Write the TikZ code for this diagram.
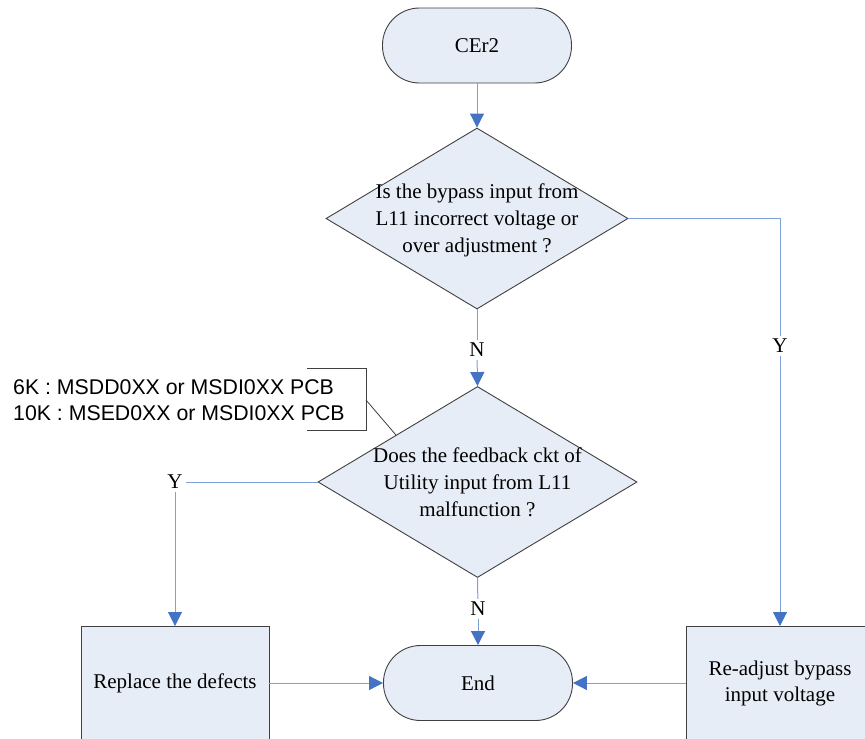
\documentclass[tikz,border=0pt]{standalone}
\usepackage{fontspec}
\setmainfont{Liberation Serif}
\newfontfamily\annofont{Liberation Sans}
\usetikzlibrary{shapes.geometric,arrows.meta,calc}

\definecolor{boxfill}{RGB}{231,237,247}
\definecolor{boxline}{RGB}{64,64,64}
\definecolor{flowline}{RGB}{125,160,216}
\definecolor{tipblue}{RGB}{68,114,196}

\tikzset{
  txt/.style={font=\fontsize{21}{27}\selectfont, align=center, inner sep=0pt},
  terminal/.style={draw=boxline, fill=boxfill, line width=0.9pt, rectangle,
    rounded corners=37pt, minimum width=189pt, minimum height=75pt,
    font=\fontsize{21}{27}\selectfont},
  decision/.style={draw=boxline, fill=boxfill, line width=0.9pt, diamond,
    inner sep=0pt},
  process/.style={draw=boxline, fill=boxfill, line width=0.9pt, rectangle,
    minimum width=188pt, minimum height=140pt, anchor=north},
  flow/.style={draw=flowline, line width=1pt},
  flowarrow/.style={flow, -{Triangle[length=14pt,width=14pt,color=tipblue]}},
  branch/.style={font=\fontsize{21}{27}\selectfont, inner sep=3pt},
  note/.style={draw=boxline, line width=0.8pt}
}

\begin{document}
\begin{tikzpicture}[x=1pt,y=-1pt]
  \useasboundingbox (0,0) rectangle (865,739);

  % start terminal
  \node[terminal] (start) at (477,45.5) {CEr2};

  % first decision
  \node[decision, minimum width=302pt, minimum height=181pt] (d1) at (477,218.5) {};
  \node[txt] (d1text) at (477,220) {Is the bypass input from\\L11 incorrect voltage or\\over adjustment ?};

  % second decision
  \node[decision, minimum width=319pt, minimum height=191pt] (d2) at (477.5,482) {};
  \node[txt] (d2text) at (477.5,482) {Does the feedback ckt of\\Utility input from L11\\malfunction ?};

  % end terminal
  \node[terminal] (end) at (478,683) {End};

  % process boxes (they run past the lower edge of the page)
  \node[process] (replace) at (175,626) {};
  \node[txt] (replacetext) at (175,683.5) {Replace the defects};
  \node[process] (readjust) at (780,626) {};
  \node[txt, font=\fontsize{21}{26}\selectfont] (readjusttext) at (780,683) {Re-adjust bypass\\input voltage};

  % branch labels
  \node[branch] (n1) at (477,350) {N};
  \node[branch] (n2) at (478,609) {N};
  \node[branch] (y1) at (780,346) {Y};
  \node[branch] (y2) at (175,482) {Y};

  % connectors
  \draw[flowarrow] (start) -- (d1.north);
  \draw[flow] (d1.south) -- (n1);
  \draw[flowarrow] (n1) -- (d2.north);
  \draw[flow] (d1.east) -| (y1);
  \draw[flowarrow] (y1) -- (readjust.north);
  \draw[flow] (d2.west) -- (y2);
  \draw[flowarrow] (y2) -- (replace.north);
  \draw[flow] (d2.south) -- (n2);
  \draw[flowarrow] (n2) -- (end.north);
  \draw[flowarrow] (replace.east |- end.west) -- (end.west);
  \draw[flowarrow] (readjust.west |- end.east) -- (end.east);

  % board annotation
  \node[anchor=west, align=left, inner sep=0pt,
        font=\annofont\fontsize{21.3}{26}\selectfont] (anno) at (13,400)
        {6K : MSDD0XX or MSDI0XX PCB\\10K : MSED0XX or MSDI0XX PCB};
  \coordinate (brtop) at (307,368);
  \coordinate (brbot) at (307,430);
  \coordinate (brmid) at (366,400);
  \coordinate (touch) at ($(d2.north)!0.51!(d2.west)$);
  \draw[note] (brtop) -- (366,368) -- (366,430) -- (brbot);
  \draw[note] (brmid) -- (touch);
\end{tikzpicture}
\end{document}
